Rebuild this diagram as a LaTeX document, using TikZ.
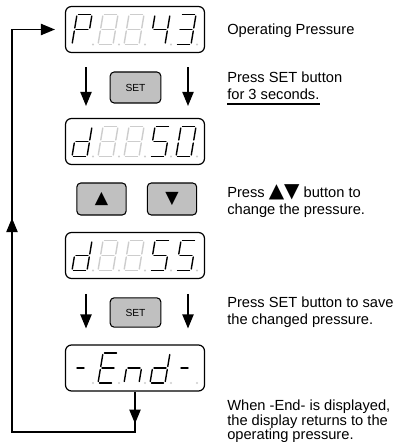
\documentclass[tikz,border=0pt]{standalone}
\usepackage{fontspec}
\setmainfont{Liberation Sans}
\newfontfamily\symfont{DejaVu Sans}
\usetikzlibrary{arrows.meta,calc,decorations.markings}

\definecolor{keygray}{RGB}{192,192,192}
\definecolor{ghost}{RGB}{205,205,205}

% segment ends of one seven-segment digit (u to the right, v up, in px)
\def\sega{(1.5,30) -- (13.5,30)}
\def\segb{(15,28.5) -- (15,16.5)}
\def\segc{(15,13.5) -- (15,1.5)}
\def\segd{(1.5,0) -- (13.5,0)}
\def\sege{(0,1.5) -- (0,13.5)}
\def\segf{(0,16.5) -- (0,28.5)}
\def\segg{(1.5,15) -- (13.5,15)}
\def\segh{(2.5,15) -- (9.5,15)} % short dash

\newcommand{\segdigit}[4][segon]{%
  \begin{scope}[shift={(#2,#3)},yscale=-1,xslant=0.167]
    \foreach \s in {#4} {\draw[#1] \csname seg\s\endcsname;}
  \end{scope}}
\newcommand{\segdot}[2]{\fill[ghost] (#1+21,#2) circle[radius=0.8pt];}

\begin{document}
\begin{tikzpicture}[x=0.75pt,y=0.75pt,yscale=-1,xscale=1,
    display/.style={draw, line width=0.9pt, rounded corners=4.5pt, minimum width=104.25pt, minimum height=34.5pt, inner sep=0pt},
    key/.style={draw, fill=keygray, line width=0.8pt, rounded corners=3pt, minimum width=38pt, minimum height=23.25pt, inner sep=0pt},
    segon/.style={line width=1.05pt, line cap=round},
    segoff/.style={segon, draw=ghost},
    note/.style={anchor=base west, inner sep=0pt, font=\fontsize{11pt}{13pt}\selectfont},
    flow/.style={line width=0.9pt, -{Triangle[length=10.5pt,width=8.5pt]}},
    backflow/.style={postaction={decorate}, decoration={markings,
        mark=at position 24pt with {\arrow{Triangle[length=10.5pt,width=8.5pt]}},
        mark=at position 283pt with {\arrow{Triangle[length=10.5pt,width=8.5pt]}}}}]
    \useasboundingbox (0,0) rectangle (394,442);

    % displays
    \node[display] (p43) at (135,29.5) {};
    \node[display] (d50) at (135,141.5) {};
    \node[display] (d55) at (135,255.5) {};
    \node[display] (fin) at (135,368) {};

    % P 8 8 4 3
    \foreach \px in {72,98,124,150,176} {\segdot{\px}{44.5}}
    \foreach \px in {98,124} {\segdigit[segoff]{\px}{44.5}{a,b,c,d,e,f,g}}
    \segdigit{72}{44.5}{a,b,e,f,g}
    \segdigit{150}{44.5}{b,c,f,g}
    \segdigit{176}{44.5}{a,b,c,d,g}

    % d 8 8 5 0
    \foreach \px in {72,98,124,150,176} {\segdot{\px}{156.5}}
    \foreach \px in {98,124} {\segdigit[segoff]{\px}{156.5}{a,b,c,d,e,f,g}}
    \segdigit{72}{156.5}{b,c,d,e,g}
    \segdigit{150}{156.5}{a,c,d,f,g}
    \segdigit{176}{156.5}{a,b,c,d,e,f}

    % d 8 8 5 5
    \foreach \px in {72,98,124,150,176} {\segdot{\px}{270.5}}
    \foreach \px in {98,124} {\segdigit[segoff]{\px}{270.5}{a,b,c,d,e,f,g}}
    \segdigit{72}{270.5}{b,c,d,e,g}
    \segdigit{150}{270.5}{a,c,d,f,g}
    \segdigit{176}{270.5}{a,c,d,f,g}

    % - E n d -
    \foreach \px in {72,98,124,150,176} {\segdot{\px}{383}}
    \segdigit{72}{383}{h}
    \segdigit{98}{383}{a,d,e,f,g}
    \segdigit{124}{383}{c,e,g}
    \segdigit{150}{383}{b,c,d,e,g}
    \segdigit{176}{383}{h}

    % keys
    \node[key, font=\fontsize{7.7pt}{9pt}\selectfont] (set1) at (135.5,87.5) {SET};
    \node[key, minimum width=37pt, minimum height=24pt, font=\symfont\fontsize{13pt}{13pt}\selectfont] (up) at (101.5,199) {▲};
    \node[key, minimum width=37pt, minimum height=24pt, font=\symfont\fontsize{13pt}{13pt}\selectfont] (down) at (172,199) {▼};
    \node[key, font=\fontsize{7.7pt}{9pt}\selectfont, minimum height=22pt] (set2) at (135.5,312.5) {SET};

    % arrows between displays
    \draw[flow, shorten <=10.5pt, shorten >=9pt] ($(p43.south)+(-49,0)$) -- ($(d50.north)+(-49,0)$);
    \draw[flow, shorten <=10.5pt, shorten >=9pt] ($(p43.south)+(53,0)$) -- ($(d50.north)+(53,0)$);
    \draw[flow, shorten <=11pt, shorten >=12pt] ($(d55.south)+(-49,0)$) -- ($(fin.north)+(-49,0)$);
    \draw[flow, shorten <=11pt, shorten >=12pt] ($(d55.south)+(53,0)$) -- ($(fin.north)+(53,0)$);

    % return line
    \coordinate (ret1) at (135,432);
    \coordinate (ret2) at (12,432);
    \coordinate (ret3) at (ret2 |- p43.west);
    \draw[flow, backflow, shorten >=7.5pt] (fin.south) -- (ret1) -- (ret2) -- (ret3) -- (p43.west);

    % notes
    \node[note] (oper) at (227,35) {Operating Pressure};
    \node[note] (set1a) at (227,83) {Press SET button};
    \node[note] (set1b) at (227,100) {for 3 seconds.};
    \draw[line width=1.1pt] ($(set1b.base west)+(0,4)$) -- ($(set1b.base east)+(0,4)$);
    \node[note] (keysa) at (227,197) {Press {\symfont\fontsize{15pt}{13pt}\selectfont ▲▼} button to};
    \node[note] (keysb) at (227,214) {change the pressure.};
    \node[note] (set2a) at (227,307) {Press SET button to save};
    \node[note] (set2b) at (227,324) {the changed pressure.};
    \node[note] (enda) at (227,410) {When -End- is displayed,};
    \node[note] (endb) at (227,425) {the display returns to the};
    \node[note] (endc) at (227,439.5) {operating pressure.};
\end{tikzpicture}
\end{document}
